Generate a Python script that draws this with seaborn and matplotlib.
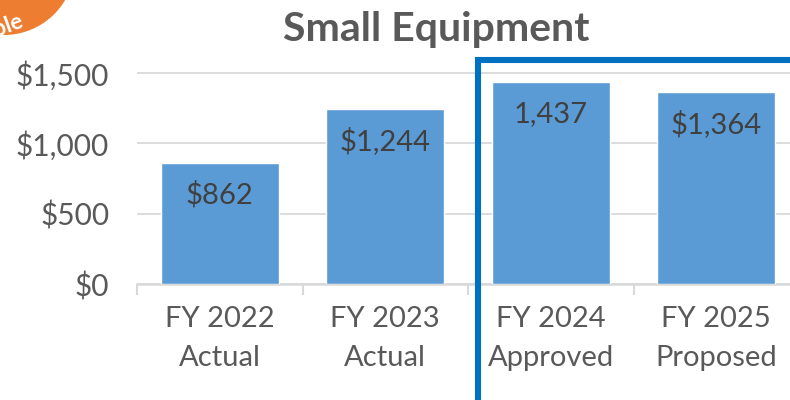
import matplotlib
matplotlib.use("Agg")
import matplotlib.pyplot as plt
import matplotlib.patches as mpatches
import seaborn as sns
import pandas as pd

categories = ["FY 2022\nActual", "FY 2023\nActual", "FY 2024\nApproved", "FY 2025\nProposed"]
values = [862, 1244, 1437, 1364]
bar_labels = ["$862", "$1,244", "1,437", "$1,364"]
yticks = [0, 500, 1000, 1500]
ytick_labels = ["$0", "$500", "$1,000", "$1,500"]
title = "Small Equipment"
badge_text = "Sample"

sns.set_theme(style="white")
plt.rcParams['font.family'] = ['Lato', 'DejaVu Sans']

W, H = 790, 400
fig = plt.figure(figsize=(W/100, H/100), dpi=100)
ax_left, ax_right = 137, 799
y0, ytop = 284, 1550
ppu = 211/1500
ax_top_px = y0 - ytop*ppu
ax = fig.add_axes([ax_left/W, 1 - y0/H, (ax_right-ax_left)/W, (y0-ax_top_px)/H])

df = pd.DataFrame({"cat": categories, "val": values})
sns.barplot(data=df, x="cat", y="val", color="#5B9BD5", saturation=1, width=0.71, ax=ax, zorder=3)

ax.set_xlim(-0.5, 3.5)
ax.set_ylim(0, ytop)
ax.set_yticks(yticks)
ax.set_yticklabels(ytick_labels)
ax.set_xlabel("")
ax.set_ylabel("")
ax.yaxis.grid(True, color="#D9D9D9", linewidth=1.3, zorder=0)
ax.set_axisbelow(True)
for s in ["top", "right", "left"]:
    ax.spines[s].set_visible(False)
ax.spines["bottom"].set_color("#D9D9D9")
ax.spines["bottom"].set_linewidth(1.8)
ax.tick_params(axis="y", length=0, pad=20, labelsize=21.5, labelcolor="#595959")
ax.tick_params(axis="x", which="major", length=0, pad=16, labelsize=21, labelcolor="#595959")
ax.set_xticks([-0.5, 0.5, 1.5, 2.5, 3.5], minor=True)
ax.tick_params(axis="x", which="minor", length=8, width=1.5, color="#D9D9D9", bottom=True)
for lab in ax.get_xticklabels():
    lab.set_linespacing(1.6)

for i, (v, t) in enumerate(zip(values, bar_labels)):
    ax.annotate(t, (i, v), xytext=(0, -23), textcoords="offset points",
                ha="center", va="center", fontsize=21, color="#404040", zorder=5)

fig.text(436/W, 1 - 30/H, title, ha="center", va="center", fontsize=29.5,
         fontweight="bold", color="#595959")

# highlight box
rect = mpatches.Rectangle((478/W, -0.05), 0.6, (H-60)/H + 0.05, transform=fig.transFigure,
                          fill=False, edgecolor="#0070C0", linewidth=4.4, zorder=10)
fig.patches.append(rect)

# sample badge
circ = mpatches.Ellipse((4/W, 1 + 36/H), 2*71/W, 2*71/H, transform=fig.transFigure,
                        facecolor="#ED7D31", edgecolor="none", zorder=10)
fig.patches.append(circ)
fig.text(25/W, 1 - 27/H, badge_text, ha="right", va="baseline", rotation=20,
         rotation_mode="anchor", fontsize=16, fontweight="bold", color="white", zorder=11)

fig.savefig("out.png", dpi=100)
